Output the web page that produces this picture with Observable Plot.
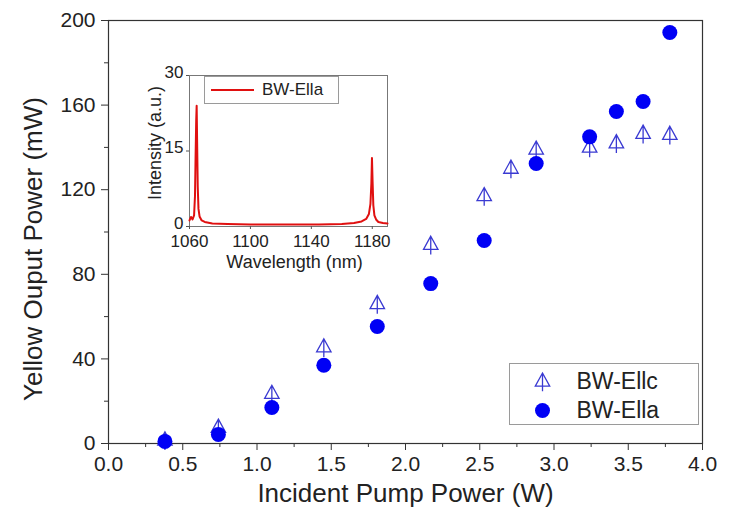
<!DOCTYPE html>
<html><head><meta charset="utf-8">
<script src="https://cdn.jsdelivr.net/npm/d3@7"></script>
<script src="https://cdn.jsdelivr.net/npm/@observablehq/plot@0.6"></script>
<style>
body{margin:0;background:#fff;}
#wrap{position:relative;width:734px;height:508px;font-family:"Liberation Sans",Arial,sans-serif;overflow:hidden;}
#main{position:absolute;left:0;top:0;}
#inset{position:absolute;left:140px;top:60px;}
#legendBox{position:absolute;left:509px;top:363px;width:190px;height:62px;border:1px solid #9a9a9a;box-sizing:border-box;}
#insetLegend{position:absolute;left:204px;top:76px;width:135px;height:28px;border:1px solid #9a9a9a;box-sizing:border-box;background:#fff;font-size:17px;color:#222;}
#insetLegend .ln{position:absolute;left:6px;top:12px;width:43px;border-top:2px solid #e01010;}
#insetLegend .tx{position:absolute;left:57px;top:3px;}
</style></head><body>
<div id="wrap"><div id="main"></div><div id="legendBox"></div><div id="inset"></div>
<div id="insetLegend"><div class="ln"></div><div class="tx" id="insetLegendText"></div></div></div>
<script>
// ---- main chart data ----
const seriesNames = ["BW-Ellc", "BW-Ella"];
const pumpEllc  = [0.38, 0.74, 1.10, 1.45, 1.81, 2.17, 2.53, 2.71, 2.88, 3.24, 3.42, 3.60, 3.78];
const powerEllc = [1.5,  7.5,  23.5, 45.5, 66,   94,   117,  130,  139,  140,  142,  146.5, 146];
const pumpElla  = [0.38, 0.74, 1.10, 1.45, 1.81, 2.17, 2.53, 2.88, 3.24, 3.42, 3.60, 3.78];
const powerElla = [1,    4.3,  17,   37,   55.3, 75.6, 96,   132.4, 145,  157,  161.7, 194.3];
const xTicks = [0, 0.5, 1.0, 1.5, 2.0, 2.5, 3.0, 3.5, 4.0];
const xMinorTicks = [0.25, 0.75, 1.25, 1.75, 2.25, 2.75, 3.25, 3.75];
const yTicks = [0, 40, 80, 120, 160, 200];
const yMinorTicks = [20, 60, 100, 140, 180];
const xTitle = "Incident Pump Power (W)";
const yTitle = "Yellow Ouput Power (mW)";

// ---- inset spectrum data ----
const insetName = "BW-Ella";
const wavelength = [1060, 1061, 1062, 1063, 1063.6, 1064.0, 1064.4, 1064.7, 1065.0, 1065.4, 1065.9, 1066.6, 1068, 1070, 1075, 1085, 1100, 1115, 1130, 1145, 1160, 1168, 1173, 1176, 1177.8, 1178.8, 1179.4, 1179.8, 1180.2, 1180.7, 1181.4, 1182.5, 1184, 1187, 1190];
const intensity  = [1.2,  1.9,  1.4,  2.2,  6,      14,     21,     24,     17,     8,      3.5,    2,      1.2,  0.9,  0.6,  0.5,  0.4,  0.4,  0.4,  0.4,  0.5,  0.7,  1.0,  1.5,  2.5,    4.5,    8.5,    13.6,   9,      4.2,    2.2,    1.4,    0.9,  0.7,  0.6];
const insetXTicks = [1060, 1100, 1140, 1180];
const insetYTicks = [0, 15, 30];
const insetXTitle = "Wavelength (nm)";
const insetYTitle = "Intensity (a.u.)";

const ellc = pumpEllc.map((x, i) => ({x, y: powerEllc[i]}));
const ella = pumpElla.map((x, i) => ({x, y: powerElla[i]}));
const spectrum = wavelength.map((w, i) => ({w, v: intensity[i]}));

const tent = {
  draw(ctx, size) {
    const s = Math.sqrt(size / Math.PI);
    ctx.moveTo(0, -s);
    ctx.lineTo(0.85 * s, 0.55 * s);
    ctx.lineTo(-0.85 * s, 0.55 * s);
    ctx.closePath();
    ctx.moveTo(0, -s);
    ctx.lineTo(0, 1.15 * s);
  }
};
const triColor = "#3a3ad2";
const dotColor = "#0000f5";
const font = "'Liberation Sans', Arial, sans-serif";

const main = Plot.plot({
  width: 734, height: 508,
  marginLeft: 108, marginRight: 32, marginTop: 20, marginBottom: 65,
  style: {fontFamily: font, fontSize: "21px", color: "#222", background: "transparent", overflow: "visible"},
  x: {domain: [0, 4]},
  y: {domain: [0, 200]},
  marks: [
    Plot.frame({stroke: "#333", strokeWidth: 1.2}),
    Plot.axisX({ticks: xMinorTicks, tickSize: 4, tickFormat: () => "", label: null, stroke: "#333"}),
    Plot.axisX({ticks: xTicks, tickSize: 7, tickPadding: 6, tickFormat: d => d.toFixed(1), label: null, stroke: "#333"}),
    Plot.axisY({ticks: yMinorTicks, tickSize: 4, tickFormat: () => "", label: null, stroke: "#333"}),
    Plot.axisY({ticks: yTicks, tickSize: 7, tickPadding: 6, tickFormat: d => String(d), label: null, stroke: "#333"}),
    Plot.text([xTitle], {frameAnchor: "bottom", dy: 50, lineAnchor: "middle", textAnchor: "middle", fontSize: 26, fill: "#222", text: d => d}),
    Plot.text([yTitle], {frameAnchor: "left", rotate: -90, dx: -75, dy: 17, lineAnchor: "middle", textAnchor: "middle", fontSize: 26, fill: "#222", text: d => d}),
    Plot.dot(ellc, {x: "x", y: "y", symbol: tent, r: 8.5, stroke: triColor, strokeWidth: 1.3, fill: "none"}),
    Plot.dot(ella, {x: "x", y: "y", r: 7.5, fill: dotColor, stroke: "none"}),
    // legend
    Plot.dot([seriesNames[0]], {frameAnchor: "bottom-right", dx: -160, dy: -62, symbol: tent, r: 8.5, stroke: triColor, strokeWidth: 1.3, fill: "none"}),
    Plot.dot([seriesNames[1]], {frameAnchor: "bottom-right", dx: -160, dy: -33, r: 7.5, fill: dotColor, stroke: "none"}),
    Plot.text([seriesNames[0]], {frameAnchor: "bottom-right", dx: -126, dy: -62, textAnchor: "start", lineAnchor: "middle", fontSize: 23, fill: "#222", text: d => d}),
    Plot.text([seriesNames[1]], {frameAnchor: "bottom-right", dx: -126, dy: -33, textAnchor: "start", lineAnchor: "middle", fontSize: 23, fill: "#222", text: d => d})
  ]
});
document.getElementById("main").append(main);

const inset = Plot.plot({
  width: 260, height: 215,
  marginLeft: 49, marginRight: 13, marginTop: 15, marginBottom: 49,
  style: {fontFamily: font, fontSize: "17px", color: "#222", background: "transparent", overflow: "visible"},
  x: {domain: [1060, 1190]},
  y: {domain: [0, 30]},
  marks: [
    Plot.frame({stroke: "#777", strokeWidth: 1}),
    Plot.axisX({ticks: insetXTicks, tickSize: 3, tickPadding: 5, label: null, tickFormat: d => String(d), stroke: "#555"}),
    Plot.axisY({ticks: insetYTicks, tickSize: 3, tickFormat: () => "", label: null, stroke: "#555"}),
    Plot.axisY({ticks: insetYTicks, tickSize: 0, tickPadding: 6, label: null, tickFormat: d => String(d), dy: -3}),
    Plot.line(spectrum, {x: "w", y: "v", stroke: "#e01010", strokeWidth: 2}),
    Plot.text([insetXTitle], {frameAnchor: "bottom", dy: 36, dx: 6, lineAnchor: "middle", textAnchor: "middle", fontSize: 18, fill: "#222", text: d => d}),
    Plot.text([insetYTitle], {frameAnchor: "left", rotate: -90, dx: -34, dy: -8, lineAnchor: "middle", textAnchor: "middle", fontSize: 18, fill: "#222", text: d => d})
  ]
});
document.getElementById("inset").append(inset);
document.getElementById("insetLegendText").textContent = insetName;
</script>
</body></html>
